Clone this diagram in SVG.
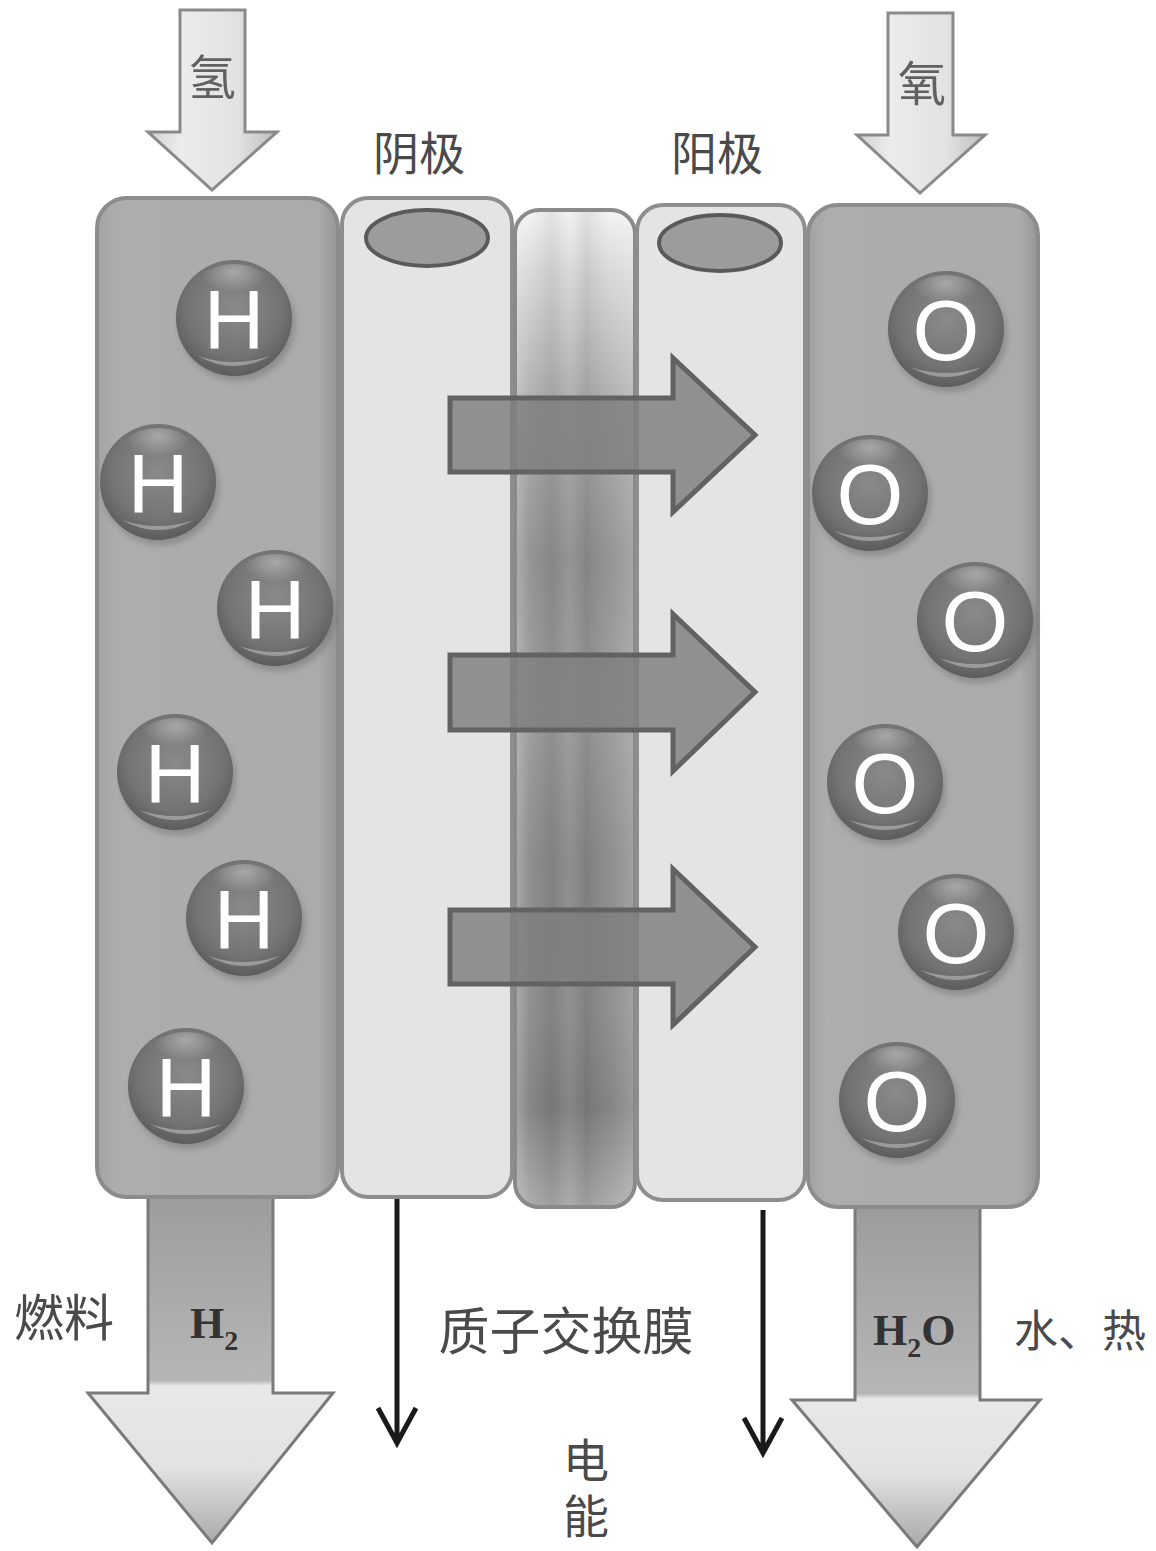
<svg xmlns="http://www.w3.org/2000/svg" width="1156" height="1551" viewBox="0 0 1156 1551">
  <defs>
    <style>
      .cjk { font-family: "Liberation Serif", "Noto Sans CJK SC", serif; fill: #4a4a4a; }
      .atom { font-family: "Liberation Sans", Arial, sans-serif; fill: #ffffff; text-anchor: middle; }
      .formula { font-family: "Liberation Serif", "Times New Roman", serif; font-weight: bold; fill: #333333; }
      .panel-gas { fill: url(#gasPanel); stroke: #8c8c8c; stroke-width: 4; }
      .panel-electrode { fill: #e4e4e4; stroke: #8e8e8e; stroke-width: 4; }
      .catalyst { fill: #9c9c9c; stroke: #5a5a5a; stroke-width: 4; }
      .flow { fill: #7e7e7e; fill-opacity: 0.82; stroke: #626262; stroke-width: 5; stroke-linejoin: miter; }
      .wire { fill: none; stroke: #1a1a1a; stroke-width: 5; }
      .inlet { fill: url(#inletFill); stroke: #8a8a8a; stroke-width: 3; stroke-linejoin: miter; }
      .outlet { stroke: #7a7a7a; stroke-width: 3; stroke-linejoin: miter; }
    </style>
    <linearGradient id="gasPanel" x1="0" y1="0" x2="1" y2="0">
      <stop offset="0" stop-color="#a2a2a2"/>
      <stop offset="0.08" stop-color="#adadad"/>
      <stop offset="0.92" stop-color="#ababab"/>
      <stop offset="1" stop-color="#959595"/>
    </linearGradient>
    <linearGradient id="membraneV" x1="0" y1="0" x2="0" y2="1">
      <stop offset="0" stop-color="#f2f2f2"/>
      <stop offset="0.06" stop-color="#d8d8d8"/>
      <stop offset="0.2" stop-color="#a8a8a8"/>
      <stop offset="0.35" stop-color="#8e8e8e"/>
      <stop offset="0.5" stop-color="#9a9a9a"/>
      <stop offset="0.65" stop-color="#888888"/>
      <stop offset="0.8" stop-color="#8a8a8a"/>
      <stop offset="0.9" stop-color="#7e7e7e"/>
      <stop offset="1" stop-color="#a8a8a8"/>
    </linearGradient>
    <linearGradient id="membraneH" x1="0" y1="0" x2="1" y2="0">
      <stop offset="0" stop-color="#ffffff" stop-opacity="0.25"/>
      <stop offset="0.12" stop-color="#ffffff" stop-opacity="0.05"/>
      <stop offset="0.3" stop-color="#000000" stop-opacity="0.06"/>
      <stop offset="0.45" stop-color="#ffffff" stop-opacity="0.06"/>
      <stop offset="0.6" stop-color="#000000" stop-opacity="0.07"/>
      <stop offset="0.8" stop-color="#ffffff" stop-opacity="0.05"/>
      <stop offset="1" stop-color="#ffffff" stop-opacity="0.2"/>
    </linearGradient>
    <linearGradient id="inletFill" x1="0" y1="0" x2="1" y2="0">
      <stop offset="0" stop-color="#cfcfcf"/>
      <stop offset="0.25" stop-color="#ececec"/>
      <stop offset="0.7" stop-color="#e2e2e2"/>
      <stop offset="1" stop-color="#bdbdbd"/>
    </linearGradient>
    <linearGradient id="outletLeft" gradientUnits="userSpaceOnUse" x1="0" y1="1195" x2="0" y2="1545">
      <stop offset="0" stop-color="#9c9c9c"/>
      <stop offset="0.53" stop-color="#b6b6b6"/>
      <stop offset="0.545" stop-color="#e8e8e8"/>
      <stop offset="0.78" stop-color="#e2e2e2"/>
      <stop offset="1" stop-color="#a8a8a8"/>
    </linearGradient>
    <linearGradient id="outletRight" gradientUnits="userSpaceOnUse" x1="0" y1="1205" x2="0" y2="1548">
      <stop offset="0" stop-color="#9c9c9c"/>
      <stop offset="0.55" stop-color="#b6b6b6"/>
      <stop offset="0.565" stop-color="#e8e8e8"/>
      <stop offset="0.78" stop-color="#e2e2e2"/>
      <stop offset="1" stop-color="#a8a8a8"/>
    </linearGradient>
    <radialGradient id="ballBody" cx="0.5" cy="0.42" r="0.58">
      <stop offset="0" stop-color="#8a8a8a"/>
      <stop offset="0.7" stop-color="#747474"/>
      <stop offset="1" stop-color="#5c5c5c"/>
    </radialGradient>
    <radialGradient id="ballShine" cx="0.5" cy="0.2" r="0.5">
      <stop offset="0" stop-color="#ffffff" stop-opacity="0.35"/>
      <stop offset="1" stop-color="#ffffff" stop-opacity="0"/>
    </radialGradient>
    <filter id="soft" x="-20%" y="-20%" width="140%" height="140%">
      <feGaussianBlur stdDeviation="3"/>
    </filter>
    <!-- shaded sphere used for every atom -->
    <g id="ball">
      <ellipse cx="3" cy="6" rx="58" ry="57" fill="#555555" opacity="0.35" filter="url(#soft)"/>
      <circle r="58" fill="url(#ballBody)"/>
      <ellipse cx="0" cy="-34" rx="34" ry="20" fill="url(#ballShine)"/>
      <path d="M -36 38 Q 0 58 36 38 Q 0 50 -36 38 Z" fill="#b0b0b0" opacity="0.7"/>
    </g>
  </defs>

  <rect width="1156" height="1551" fill="#ffffff"/>

  <!-- outlet arrows (behind the panels) -->
  <g id="outlet-h2">
    <path class="outlet" fill="url(#outletLeft)" d="M 148 1190 L 273 1190 L 273 1393 L 333 1393 L 212 1543 L 88 1393 L 148 1393 Z"/>
    <text class="formula" x="190" y="1338" font-size="44">H<tspan font-size="28" dy="12">2</tspan></text>
  </g>
  <g id="outlet-h2o">
    <path class="outlet" fill="url(#outletRight)" d="M 855 1200 L 980 1200 L 980 1400 L 1040 1400 L 917 1547 L 792 1400 L 855 1400 Z"/>
    <text class="formula" x="873" y="1345" font-size="44">H<tspan font-size="28" dy="12">2</tspan><tspan dy="-12">O</tspan></text>
  </g>

  <!-- gas channels and electrodes -->
  <g id="anode-gas-channel">
    <rect class="panel-gas" x="97" y="198" width="241" height="999" rx="30"/>
  </g>
  <g id="cathode-electrode">
    <rect class="panel-electrode" x="342" y="198" width="170" height="999" rx="26"/>
    <ellipse class="catalyst" cx="427" cy="238" rx="61" ry="28"/>
  </g>
  <g id="proton-exchange-membrane">
    <rect x="515" y="210" width="120" height="997" rx="24" fill="url(#membraneV)" stroke="#8a8a8a" stroke-width="4"/>
    <rect x="517" y="212" width="116" height="993" rx="22" fill="url(#membraneH)"/>
  </g>
  <g id="anode-electrode">
    <rect class="panel-electrode" x="637" y="205" width="168" height="995" rx="26"/>
    <ellipse class="catalyst" cx="720" cy="243" rx="61" ry="28"/>
  </g>
  <g id="cathode-gas-channel">
    <rect class="panel-gas" x="808" y="205" width="230" height="1002" rx="30"/>
  </g>

  <!-- hydrogen atoms -->
  <g id="h-atoms">
    <g id="h1" transform="translate(234,318)"><use href="#ball"/><text class="atom" y="31" font-size="84">H</text></g>
    <g id="h2" transform="translate(158,482)"><use href="#ball"/><text class="atom" y="31" font-size="84">H</text></g>
    <g id="h3" transform="translate(275,608)"><use href="#ball"/><text class="atom" y="31" font-size="84">H</text></g>
    <g id="h4" transform="translate(175,772)"><use href="#ball"/><text class="atom" y="31" font-size="84">H</text></g>
    <g id="h5" transform="translate(244,918)"><use href="#ball"/><text class="atom" y="31" font-size="84">H</text></g>
    <g id="h6" transform="translate(186,1086)"><use href="#ball"/><text class="atom" y="31" font-size="84">H</text></g>
  </g>

  <!-- oxygen atoms -->
  <g id="o-atoms">
    <g id="o1" transform="translate(946,329)"><use href="#ball"/><text class="atom" y="31" font-size="86">O</text></g>
    <g id="o2" transform="translate(870,493)"><use href="#ball"/><text class="atom" y="31" font-size="86">O</text></g>
    <g id="o3" transform="translate(975,620)"><use href="#ball"/><text class="atom" y="31" font-size="86">O</text></g>
    <g id="o4" transform="translate(885,782)"><use href="#ball"/><text class="atom" y="31" font-size="86">O</text></g>
    <g id="o5" transform="translate(956,932)"><use href="#ball"/><text class="atom" y="31" font-size="86">O</text></g>
    <g id="o6" transform="translate(897,1100)"><use href="#ball"/><text class="atom" y="31" font-size="86">O</text></g>
  </g>

  <!-- gas inlets -->
  <g id="inlet-left">
    <path class="inlet" d="M 180 10 L 245 10 L 245 132 L 277 132 L 212 190 L 148 132 L 180 132 Z"/>
    <text class="cjk" x="212" y="95" font-size="48" text-anchor="middle" opacity="0.85">氢</text>
  </g>
  <g id="inlet-right">
    <path class="inlet" d="M 888 13 L 953 13 L 953 135 L 985 135 L 920 193 L 857 135 L 888 135 Z"/>
    <text class="cjk" x="922" y="101" font-size="48" text-anchor="middle" opacity="0.85">氧</text>
  </g>

  <!-- labels -->
  <g id="labels">
    <text class="cjk" x="419" y="170" font-size="46" text-anchor="middle">阴极</text>
    <text class="cjk" x="717" y="170" font-size="46" text-anchor="middle">阳极</text>
    <text class="cjk" x="14" y="1336" font-size="50">燃料</text>
    <text class="cjk" x="1014" y="1347" font-size="44">水、热</text>
    <text class="cjk" x="566" y="1350" font-size="51" text-anchor="middle">质子交换膜</text>
    <text class="cjk" x="586" y="1477" font-size="46" text-anchor="middle">电</text>
    <text class="cjk" x="586" y="1533" font-size="46" text-anchor="middle">能</text>
  </g>

  <!-- connectors: proton flow and external circuit -->
  <g id="connectors">
    <path class="flow" d="M 450 398 L 673 398 L 673 358 L 755 435 L 673 512 L 673 472 L 450 472 Z"/>
    <path class="flow" d="M 450 655 L 673 655 L 673 614 L 755 692 L 673 771 L 673 730 L 450 730 Z"/>
    <path class="flow" d="M 450 910 L 673 910 L 673 869 L 755 947 L 673 1025 L 673 984 L 450 984 Z"/>
    <path class="wire" d="M 397 1199 L 397 1443 M 378 1408 L 397 1443 L 416 1408"/>
    <path class="wire" d="M 763 1210 L 763 1453 M 744 1418 L 763 1453 L 782 1418"/>
  </g>
</svg>
